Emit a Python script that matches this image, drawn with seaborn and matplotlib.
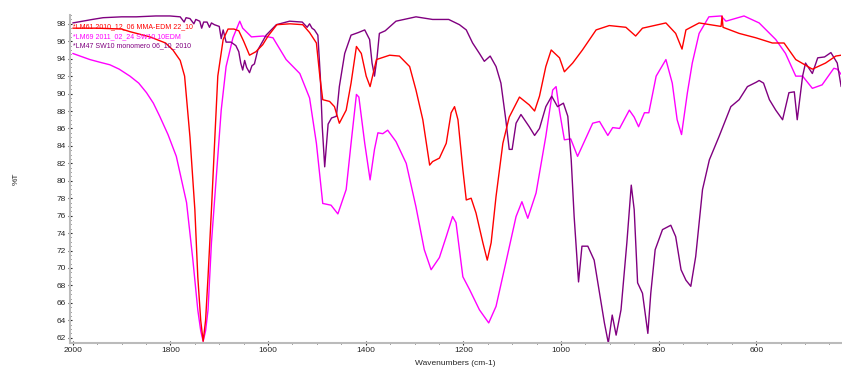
import numpy as np
import pandas as pd
import matplotlib
matplotlib.use("Agg")
import matplotlib.pyplot as plt
import seaborn as sns
from matplotlib.ticker import MultipleLocator

# Spectrum names (legend order)
names = ["*LM61 2010_12_06 MMA-EDM 22_10",
         "*LM69 2011_02_24 SW10 10EDM",
         "*LM47 SW10 monomero 06_10_2010"]
colors = ["#ff0000", "#ff00ff", "#800080"]

# Red spectrum (LM61)
red_wn = [2000, 1950, 1900, 1883, 1842, 1810, 1795, 1780, 1771, 1760, 1750, 1744, 1738, 1733, 1728,
          1723, 1716, 1709, 1703, 1692, 1682, 1670, 1660, 1650, 1638, 1625, 1611, 1600, 1582, 1555,
          1529, 1515, 1501, 1494, 1488, 1474, 1464, 1454, 1440, 1430, 1419, 1409, 1399, 1391, 1378,
          1351, 1331, 1310, 1297, 1283, 1269, 1263, 1249, 1235, 1225, 1218, 1211, 1201, 1194, 1184,
          1174, 1160, 1151, 1143, 1133, 1119, 1106, 1085, 1065, 1054, 1044, 1031, 1020, 1003, 993,
          976, 956, 928, 901, 867, 847, 833, 785, 765, 752, 744, 717, 672, 670, 668, 635, 601, 567,
          543, 519, 485, 458, 437, 426]
red_t = [97.5, 97.5, 97.4, 97.1, 96.5, 95.8, 95.0, 93.8, 92.0, 85.0, 76.7, 69.0, 64.0, 61.6, 64.0,
         69.0, 76.7, 85.0, 92.0, 96.2, 97.4, 97.4, 97.2, 96.0, 94.4, 94.8, 95.6, 96.6, 97.9, 98.0,
         97.9, 97.0, 95.8, 92.0, 89.3, 89.1, 88.5, 86.6, 88.1, 91.2, 95.4, 94.6, 92.0, 90.8, 93.9,
         94.4, 94.3, 93.1, 90.4, 87.0, 81.8, 82.2, 82.6, 84.3, 87.8, 88.5, 87.0, 81.3, 77.8, 78.0,
         76.3, 72.9, 70.9, 72.9, 78.2, 84.3, 87.3, 89.6, 88.7, 88.0, 89.7, 93.1, 95.0, 94.1, 92.5,
         93.5, 95.0, 97.3, 97.8, 97.6, 96.6, 97.5, 98.1, 96.9, 95.1, 97.3, 98.1, 97.7, 98.9, 97.6,
         96.9, 96.4, 95.8, 95.8, 93.9, 92.8, 93.5, 94.3, 94.4]

# Magenta spectrum (LM69)
mag_wn = [2000, 1965, 1945, 1924, 1905, 1883, 1865, 1849, 1835, 1822, 1805, 1788, 1767, 1754, 1744,
          1738, 1733, 1728, 1723, 1716,
          1706, 1696, 1686, 1672, 1658, 1652, 1634, 1610, 1590, 1563, 1535, 1515, 1501, 1488, 1471,
          1457, 1440, 1430, 1419, 1414, 1402, 1391, 1382, 1375, 1365, 1355, 1338, 1317, 1297, 1280,
          1266, 1249, 1235, 1222, 1215, 1201, 1187, 1167, 1148, 1133, 1113, 1092, 1080, 1068, 1051,
          1031, 1017, 1010, 1003, 993, 980, 966, 935, 921, 904, 894, 880, 860, 850, 841, 829, 820,
          805, 785, 772, 762, 753, 741, 731, 717, 697, 672, 662, 625, 594, 560, 540, 519, 505, 485,
          465, 441, 434, 426]
mag_t = [94.6, 93.9, 93.6, 93.3, 92.8, 92.0, 91.2, 90.1, 88.9, 87.4, 85.3, 82.8, 77.5, 70.9, 65.2,
         62.8, 61.6, 62.8, 65.2, 72.9,
         80.5, 88.1, 93.1, 96.4, 98.3, 97.5, 96.5, 96.6, 96.4, 93.9, 92.3, 89.5, 84.3, 77.4, 77.2,
         76.2, 79.0, 84.3, 89.9, 89.6, 84.3, 80.1, 83.6, 85.5, 85.4, 85.8, 84.5, 82.0, 77.0, 72.1,
         69.8, 71.2, 73.6, 75.9, 75.2, 69.0, 67.5, 65.2, 63.7, 65.6, 70.6, 75.9, 77.6, 75.7, 78.6,
         85.1, 90.4, 90.8, 88.0, 84.7, 84.8, 82.8, 86.6, 86.8, 85.2, 86.1, 86.0, 88.1, 87.3, 86.2,
         87.8, 87.8, 92.0, 93.9, 91.2, 87.0, 85.3, 90.1, 93.5, 96.9, 98.8, 98.9, 98.3, 98.9, 98.1,
         96.2, 94.6, 92.0, 92.0, 90.6, 91.0, 92.9, 92.8, 92.2]

# Purple spectrum (LM47)
pur_wn = [2000, 1960, 1938, 1900, 1870, 1830, 1801, 1780, 1772, 1768, 1760, 1752, 1748, 1740, 1736,
          1732, 1725, 1720, 1716, 1710, 1700, 1696, 1692, 1686, 1676, 1666, 1660, 1656, 1652, 1648,
          1644, 1638, 1633, 1628, 1621, 1604, 1583, 1556, 1530, 1520, 1515, 1510, 1505, 1498, 1493,
          1489, 1484, 1477, 1470, 1460, 1454, 1443, 1430, 1415, 1402, 1392, 1387, 1382, 1377, 1372,
          1360, 1338, 1297, 1263, 1230, 1208, 1194, 1181, 1167, 1157, 1145, 1133, 1123, 1113, 1106,
          1100, 1092, 1082, 1065, 1054, 1044, 1031, 1019, 1007, 995, 986, 979, 973, 964, 957, 945,
          932, 921, 911, 903, 895, 887, 877, 865, 856, 850, 843, 833, 822, 816, 807, 792, 775, 765,
          754, 744, 734, 724, 710, 696, 676, 652, 635, 618, 600, 594, 585, 573, 560, 546, 533, 522,
          516, 505, 499, 485, 474, 460, 447, 434, 426]
pur_t = [98.1, 98.5, 98.7, 98.8, 98.8, 98.9, 98.9, 98.8, 98.2, 98.7, 98.6, 98.0, 98.5, 98.3, 97.5,
         98.2, 98.2, 97.6, 98.1, 97.9, 97.7, 96.3, 97.3, 95.9, 95.9, 95.5, 94.8, 93.5, 92.7, 93.8,
         93.0, 92.4, 93.2, 93.4, 95.0, 96.7, 97.9, 98.3, 98.2, 97.6, 98.0, 97.5, 97.3, 96.7, 92.0,
         86.2, 81.6, 86.5, 87.2, 87.4, 90.8, 94.6, 96.7, 97.0, 97.3, 96.2, 93.5, 92.0, 94.0, 96.9,
         97.2, 98.3, 98.8, 98.5, 98.5, 97.9, 97.3, 95.8, 94.6, 93.7, 94.3, 93.1, 91.2, 87.0, 83.6,
         83.6, 86.6, 87.6, 86.2, 85.2, 86.0, 88.5, 89.7, 88.5, 88.9, 87.4, 82.4, 75.9, 68.4, 72.5, 72.5,
         70.9, 67.1, 63.7, 61.4, 64.6, 62.3, 65.2, 72.9, 79.5, 76.7, 68.3, 67.1, 62.5, 67.1, 72.1, 74.4,
         74.9, 73.6, 69.8, 68.6, 67.9, 71.3, 79.0, 82.4, 85.1, 88.5, 89.3, 90.8, 91.3, 91.5, 91.2,
         89.3, 88.1, 87.0, 90.1, 90.2, 87.0, 92.0, 93.5, 92.3, 94.1, 94.2, 94.7, 93.5, 90.8]

sns.set_style("ticks")
plt.rcParams['font.family'] = ['Liberation Sans', 'DejaVu Sans']

fig = plt.figure(figsize=(8.42, 3.68), dpi=100)
ax = fig.add_axes([0.083, 0.068, 0.916, 0.891])

# draw order: magenta, purple, red on top
for wn, t, name, col in [(mag_wn, mag_t, names[1], colors[1]),
                         (pur_wn, pur_t, names[2], colors[2]),
                         (red_wn, red_t, names[0], colors[0])]:
    df = pd.DataFrame({"Wavenumber": wn, "T": t})
    sns.lineplot(data=df, x="Wavenumber", y="T", ax=ax, color=col, lw=1.0,
                 label=name, estimator=None, sort=False)

ax.set_xlim(2006, 426)
ax.set_ylim(61.4, 99.0)
ax.xaxis.set_major_locator(MultipleLocator(200))
ax.xaxis.set_minor_locator(MultipleLocator(50))
ax.yaxis.set_major_locator(MultipleLocator(2))
ax.yaxis.set_minor_locator(MultipleLocator(0.5))
ax.tick_params(axis='both', which='major', labelsize=6, length=3, width=0.8, pad=1.5, direction='inout')
ax.tick_params(axis='both', which='minor', length=2, width=0.6, direction='inout')
ax.set_xlabel("Wavenumbers (cm-1)", fontsize=6, labelpad=4)
ax.set_ylabel("%T", fontsize=6, labelpad=26)
for s in ['top', 'right']:
    ax.spines[s].set_visible(False)
ax.spines['bottom'].set_color('#bbbbbb')
ax.spines['bottom'].set_linewidth(1.5)
ax.spines['left'].set_color('#bbbbbb')
ax.spines['left'].set_linewidth(1.5)

# colored text legend without handles, in original order
handles, labels = ax.get_legend_handles_labels()
order = [labels.index(n) for n in names]
leg = ax.legend([handles[i] for i in order], [labels[i] for i in order],
                loc='upper left', bbox_to_anchor=(0.0, 0.985), frameon=False,
                fontsize=5, handlelength=0, handletextpad=0, labelspacing=0.35,
                borderaxespad=0.1, labelcolor=colors)
for h in leg.legend_handles:
    h.set_visible(False)

fig.savefig("out.png", dpi=100)
